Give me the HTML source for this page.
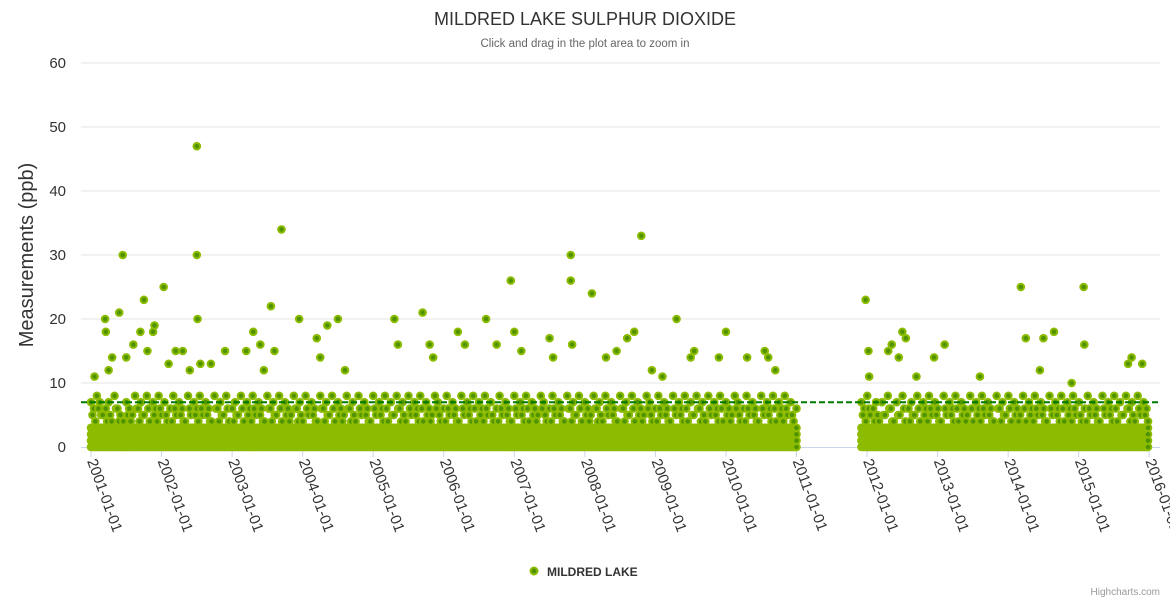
<!DOCTYPE html>
<html><head><meta charset="utf-8"><style>
body{margin:0;background:#fff;font-family:"Liberation Sans",sans-serif;}
svg text{font-family:"Liberation Sans",sans-serif;}
</style></head><body>
<svg id="chart" width="1170" height="600" xmlns="http://www.w3.org/2000/svg">
<rect width="1170" height="600" fill="#fff"/>
<text x="585" y="25" text-anchor="middle" font-size="18" fill="#333">MILDRED LAKE SULPHUR DIOXIDE</text>
<text x="585" y="47" text-anchor="middle" font-size="11.5" fill="#666">Click and drag in the plot area to zoom in</text>
<text transform="translate(33,255) rotate(-90)" text-anchor="middle" font-size="20" fill="#333">Measurements (ppb)</text>
<g id="grid"></g>
<g id="ylabels"></g>
<g id="xaxis"></g>
<g id="plot"></g>
<line id="thresh" stroke="#007a00" stroke-width="2" stroke-dasharray="6,3"/>
<g>
<circle cx="534" cy="571" r="3.5" fill="#4f9400" stroke="#8cbb00" stroke-width="2"/>
<text x="547" y="576" font-size="12" font-weight="bold" fill="#333">MILDRED LAKE</text>
</g>
<text x="1160" y="595" text-anchor="end" font-size="10" fill="#999">Highcharts.com</text>
</svg>
<script>
const yTicks=[0,10,20,30,40,50,60];
const xTickYears=[2001,2002,2003,2004,2005,2006,2007,2008,2009,2010,2011,2012,2013,2014,2015,2016];
const threshold=7;
const seg1Start=2001.0;
const seg1End=2011.0;
const seg1Max="7687567486547658675847685746857648576857648675846758476857648675847658674857648675847658674857648576847586748576847658746857648576847685746857648576847658746857648675847658674857648675847658746857648576847586748576847658746857648576847685746857648";
const seg2Start=2011.92;
const seg2End=2016.0;
const seg2Max="76856747586475846758476857648576847658476857648675847658476857648576847685746857648576847586748576847";
const outlierYears=[2001.05,2001.2,2001.21,2001.25,2001.3,2001.4,2001.45,2001.5,2001.6,2001.75,2001.7,2001.8,2001.9,2001.88,2002.03,2002.1,2002.2,2002.3,2002.4,2002.5,2002.5,2002.51,2002.55,2002.7,2002.9,2003.2,2003.3,2003.4,2003.45,2003.55,2003.6,2003.7,2003.95,2004.2,2004.25,2004.35,2004.5,2004.6,2005.3,2005.35,2005.7,2005.8,2005.85,2006.2,2006.3,2006.6,2006.75,2006.95,2007.0,2007.1,2007.5,2007.55,2007.8,2007.8,2007.82,2008.1,2008.3,2008.45,2008.6,2008.7,2008.8,2008.95,2009.1,2009.3,2009.5,2009.55,2009.9,2010.0,2010.3,2010.55,2010.6,2010.7,2011.98,2012.02,2012.03,2012.3,2012.35,2012.45,2012.5,2012.55,2012.7,2012.95,2013.1,2013.6,2014.18,2014.25,2014.45,2014.5,2014.65,2014.9,2015.07,2015.08,2015.7,2015.75,2015.9];
const outlierValues=[11,20,18,12,14,21,30,14,16,23,18,15,19,18,25,13,15,15,12,47,30,20,13,13,15,15,18,16,12,22,15,34,20,17,14,19,20,12,20,16,21,16,14,18,16,20,16,26,18,15,17,14,30,26,16,24,14,15,17,18,33,12,11,20,14,15,14,18,14,15,14,12,23,15,11,15,16,14,18,17,11,14,16,11,25,17,12,17,18,10,25,16,13,14,13];

const NS="http://www.w3.org/2000/svg";
const X0=91,PXY=70.55,Y0=447,PXV=6.4,L=81,R=1160;
const xs=yr=>X0+(yr-2001)*PXY;
const ys=v=>Y0-v*PXV;
function mk(tag,attrs,parent){const e=document.createElementNS(NS,tag);for(const k in attrs)e.setAttribute(k,attrs[k]);parent.appendChild(e);return e;}
const grid=document.getElementById('grid'),yl=document.getElementById('ylabels'),xa=document.getElementById('xaxis'),plot=document.getElementById('plot');
yTicks.forEach(t=>{
  if(t>0){const g=mk('line',{x1:L,x2:R,y1:ys(t),y2:ys(t),stroke:'#e6e6e6','stroke-width':1},grid);
  
  }
  const tx=mk('text',{x:66,y:ys(t)+5,'text-anchor':'end','font-size':15,fill:'#333'},yl);
  tx.textContent=t;
  
  
});
const base=mk('line',{x1:L,x2:R,y1:Y0+0.5,y2:Y0+0.5,stroke:'#ccd6eb','stroke-width':1},xa);


xTickYears.forEach(yr=>{
  const x=xs(yr);
  const tk=mk('line',{x1:x,x2:x,y1:Y0,y2:Y0+10,stroke:'#ccd6eb'},xa);
  
  
  const tx=mk('text',{x:x-4,y:Y0+14,'font-size':15,fill:'#333',transform:`rotate(70 ${x-4} ${Y0+14})`},xa);
  tx.textContent=yr+'-01-01';
  
  
});
function pt(yr,v){
  const c=mk('circle',{cx:xs(yr),cy:ys(v),r:3.3,fill:'#4f9400',stroke:'#8cbb00','stroke-width':2},plot);
  
  
}
function seg(start,end,str){
  for(let i=0;i<str.length;i++){
    const yr=start+i/24, m=+str[i];
    if(yr>end)break;
    for(let v=0;v<=Math.min(3,m);v++){pt(yr,v);if(yr+1/48<=end)pt(yr+1/48,v);}
    if(m>3){pt(yr,m);}
    if(m>5&&yr+1/48<=end){pt(yr+1/48,m-2);}
  }
}
seg(seg1Start,seg1End,seg1Max);
seg(seg2Start,seg2End,seg2Max);
outlierYears.forEach((yr,i)=>pt(yr,outlierValues[i]));
const th=document.getElementById('thresh');
th.setAttribute('x1',L);th.setAttribute('x2',R);th.setAttribute('y1',ys(threshold));th.setAttribute('y2',ys(threshold));
document.getElementById('chart').appendChild(th);
</script>
</body></html>
